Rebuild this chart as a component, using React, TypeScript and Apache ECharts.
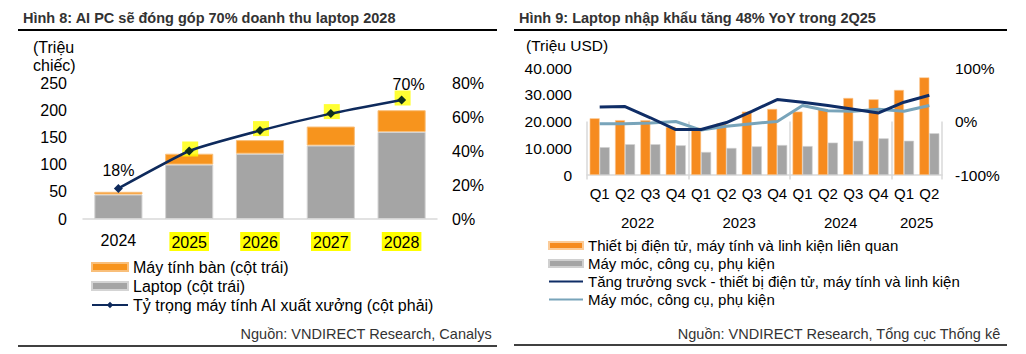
import React, { useEffect, useRef } from 'react';
import * as echarts from 'echarts';

// ---------- Left chart (Hình 8) ----------
const leftYears = ['2024', '2025', '2026', '2027', '2028'];
const laptopUnits = [45, 100, 120, 135, 160];
const desktopUnits = [5, 20, 25, 35, 40];
const aiShare = [0.18, 0.40, 0.52, 0.62, 0.70];
const highlightedYears = ['2025', '2026', '2027', '2028'];

// ---------- Right chart (Hình 9) ----------
const quarters = ['Q1', 'Q2', 'Q3', 'Q4', 'Q1', 'Q2', 'Q3', 'Q4', 'Q1', 'Q2', 'Q3', 'Q4', 'Q1', 'Q2'];
const yearGroups = ['2022', '2023', '2024', '2025'];
const quartersPerYear = [4, 4, 4, 2];
const electronicsImports = [21200, 20500, 20500, 18000, 17700, 19300, 23700, 24700, 23700, 24700, 28800, 28300, 31800, 36500];
const machineryImports = [10400, 11500, 11500, 11100, 8600, 10100, 10700, 11200, 10800, 12100, 12800, 13700, 12800, 15600];
const electronicsYoY = [0.27, 0.28, 0.07, -0.15, -0.15, -0.02, 0.19, 0.41, 0.36, 0.30, 0.23, 0.16, 0.36, 0.49];
const machineryYoY = [-0.04, -0.04, -0.03, 0.0, -0.16, -0.09, -0.04, 0.0, 0.30, 0.20, 0.19, 0.23, 0.19, 0.30];

const L1 = 'Máy tính bàn (cột trái)';
const L2 = 'Laptop (cột trái)';
const L3 = 'Tỷ trọng máy tính AI xuất xưởng (cột phải)';
const R1 = 'Thiết bị điện tử, máy tính và linh kiện liên quan';
const R2 = 'Máy móc, công cụ, phụ kiện';
const R3 = 'Tăng trưởng svck - thiết bị điện tử, máy tính và linh kiện';
const R4 = 'Tăng trưởng svck - Máy móc, công cụ, phụ kiện';
const R4_LABEL = 'Máy móc, công cụ, phụ kiện';

const FONT = '"Liberation Sans", Arial, sans-serif';
const pct = (v: number) => Math.round(v * 100) + '%';
const thousands = (v: number) => String(v).replace(/\B(?=(\d{3})+(?!\d))/g, '.');

// year group boundaries and centres derived from quartersPerYear
const boundaries: number[] = [0];
quartersPerYear.forEach((n) => boundaries.push(boundaries[boundaries.length - 1] + n));
const centres = quartersPerYear.map((n, i) => boundaries[i] + n / 2);

export default function App() {
  const ref = useRef<HTMLDivElement>(null);
  useEffect(() => {
    if (!ref.current) return;
    const chart = echarts.init(ref.current, undefined, { renderer: 'svg' });
    const hlRich: any = {
      h: { backgroundColor: '#FFFF00', padding: [2, 2, 1, 2], fontSize: 16, color: '#000', fontFamily: FONT },
    };
    const hiddenSymbol = { color: 'rgba(0,0,0,0)', opacity: 0, borderWidth: 0 };
    const option: any = {
      animation: false,
      textStyle: { fontFamily: FONT },
      title: [
        { text: 'Hình 8: AI PC sẽ đóng góp 70% doanh thu laptop 2028', left: 18, top: 5, textStyle: { fontSize: 14.5, fontWeight: 'bold', color: '#333', fontFamily: FONT } },
        { text: 'Hình 9: Laptop nhập khẩu tăng 48% YoY trong 2Q25', left: 514, top: 5, textStyle: { fontSize: 14.5, fontWeight: 'bold', color: '#333', fontFamily: FONT } },
        { text: 'Nguồn: VNDIRECT Research, Canalys', right: 529, top: 321, textStyle: { fontSize: 14.5, fontWeight: 'normal', color: '#333', fontFamily: FONT } },
        { text: 'Nguồn: VNDIRECT Research, Tổng cục Thống kê', right: 20, top: 321, textStyle: { fontSize: 14.5, fontWeight: 'normal', color: '#333', fontFamily: FONT } },
      ],
      graphic: [
        { type: 'line', shape: { x1: 18, y1: 30, x2: 497, y2: 30 }, style: { stroke: '#000', lineWidth: 2 } },
        { type: 'line', shape: { x1: 514, y1: 30, x2: 1007, y2: 30 }, style: { stroke: '#000', lineWidth: 2 } },
        { type: 'line', shape: { x1: 18, y1: 346, x2: 497, y2: 346 }, style: { stroke: '#000', lineWidth: 1.5 } },
        { type: 'line', shape: { x1: 514, y1: 345, x2: 1007, y2: 345 }, style: { stroke: '#000', lineWidth: 1.5 } },
        { type: 'text', left: 33, top: 38, style: { text: '(Triệu\nchiếc)', fontSize: 16, lineHeight: 18, fill: '#000', fontFamily: FONT } },
        { type: 'text', left: 526, top: 37, style: { text: '(Triệu USD)', fontSize: 15.5, fill: '#000', fontFamily: FONT } },
      ],
      legend: [
        {
          orient: 'vertical', left: 86, top: 254, itemGap: 3, itemWidth: 36, itemHeight: 8,
          selectedMode: false,
          textStyle: { fontSize: 16, color: '#000', fontFamily: FONT },
          data: [{ name: L1, icon: 'rect' }, { name: L2, icon: 'rect' }, { name: L3 }],
        },
        {
          orient: 'vertical', left: 543, top: 233, itemGap: 3, itemWidth: 34, itemHeight: 7,
          selectedMode: false,
          textStyle: { fontSize: 15, color: '#000', fontFamily: FONT },
          formatter: (n: string) => (n === R4 ? R4_LABEL : n),
          data: [
            { name: R1, icon: 'rect' },
            { name: R2, icon: 'rect' },
            { name: R3, itemStyle: hiddenSymbol },
            { name: R4, itemStyle: hiddenSymbol },
          ],
        },
      ],
      grid: [
        { left: 83, right: 589, top: 83, bottom: 135 },
        { left: 587, right: 84, top: 68, bottom: 179 },
      ],
      xAxis: [
        {
          gridIndex: 0, type: 'category', data: leftYears,
          axisLine: { lineStyle: { color: '#D9D9D9', width: 1.5 } },
          axisTick: { show: false },
          axisLabel: {
            fontSize: 16, color: '#000', margin: 13, interval: 0,
            formatter: (v: string) => (highlightedYears.includes(v) ? `{h|${v}}` : v),
            rich: hlRich,
          },
        },
        {
          gridIndex: 1, type: 'category', data: quarters, position: 'bottom',
          axisLine: { lineStyle: { color: '#D9D9D9', width: 1.5 } },
          axisTick: { show: false },
          axisLabel: { fontSize: 15, color: '#000', margin: 11, interval: 0 },
        },
        {
          gridIndex: 1, type: 'value', min: 0, max: boundaries[boundaries.length - 1], interval: 1, position: 'bottom',
          axisLine: { show: false },
          splitLine: { show: false },
          axisTick: { show: true, customValues: boundaries, length: 58, lineStyle: { color: '#D9D9D9', width: 1.5 } },
          axisLabel: {
            customValues: centres, fontSize: 15, color: '#000', margin: 40,
            formatter: (v: number) => {
              const i = centres.indexOf(v);
              return i >= 0 ? yearGroups[i] : '';
            },
          },
        },
      ],
      yAxis: [
        {
          gridIndex: 0, type: 'value', min: 0, max: 250, interval: 50,
          axisLine: { show: false }, axisTick: { show: false }, splitLine: { show: false },
          axisLabel: { fontSize: 16, color: '#000', margin: 16 },
        },
        {
          gridIndex: 0, type: 'value', min: 0, max: 0.8, interval: 0.2, position: 'right',
          axisLine: { show: false }, axisTick: { show: false }, splitLine: { show: false },
          axisLabel: { fontSize: 16, color: '#000', margin: 15, formatter: pct },
        },
        {
          gridIndex: 1, type: 'value', min: 0, max: 40000, interval: 10000,
          axisLine: { show: false }, axisTick: { show: false }, splitLine: { show: false },
          axisLabel: { fontSize: 15.5, color: '#000', margin: 15, formatter: thousands },
        },
        {
          gridIndex: 1, type: 'value', min: -1, max: 1, interval: 1, position: 'right',
          axisLine: { show: false }, axisTick: { show: false }, splitLine: { show: false },
          axisLabel: { fontSize: 15.5, color: '#000', margin: 13, formatter: pct },
        },
      ],
      series: [
        {
          name: L2, type: 'bar', xAxisIndex: 0, yAxisIndex: 0, stack: 'units', data: laptopUnits,
          barCategoryGap: '32%', itemStyle: { color: '#A5A5A5', borderColor: '#D4D4D4', borderWidth: 1 }, z: 2,
        },
        {
          name: L1, type: 'bar', xAxisIndex: 0, yAxisIndex: 0, stack: 'units', data: desktopUnits,
          itemStyle: { color: '#F7941D', borderColor: '#F9BF7A', borderWidth: 1 }, z: 2,
        },
        {
          name: 'highlight', type: 'scatter', xAxisIndex: 0, yAxisIndex: 1, silent: true, z: 3,
          symbol: 'rect', symbolSize: [16, 15], symbolOffset: [1, -2],
          itemStyle: { color: '#FFFF00' },
          data: aiShare.map((v, i) => (highlightedYears.includes(leftYears[i]) ? v : '-')),
        },
        {
          name: L3, type: 'line', xAxisIndex: 0, yAxisIndex: 1, z: 5, smooth: 0.15,
          symbol: 'diamond', symbolSize: 9,
          lineStyle: { color: '#0E2A5C', width: 2.5 },
          itemStyle: { color: '#0E2A5C' },
          label: { show: false, position: 'top', distance: 8, fontSize: 16, color: '#000', formatter: (p: any) => pct(p.value) },
          data: aiShare.map((v, i) => ({
            value: v,
            itemStyle: highlightedYears.includes(leftYears[i]) ? { color: '#10301C' } : undefined,
            label: i === 0 || i === aiShare.length - 1 ? { show: true, offset: i === 0 ? [0, 3] : [7, 5] } : undefined,
          })),
        },
        {
          name: R1, type: 'bar', xAxisIndex: 1, yAxisIndex: 2, data: electronicsImports,
          barGap: '0%', barCategoryGap: '21%',
          itemStyle: { color: '#F68B1F', borderColor: '#FBCB98', borderWidth: 0.6 },
        },
        {
          name: R2, type: 'bar', xAxisIndex: 1, yAxisIndex: 2, data: machineryImports,
          itemStyle: { color: '#A5A5A5', borderColor: '#D0D0D0', borderWidth: 0.6 },
        },
        {
          name: R3, type: 'line', xAxisIndex: 1, yAxisIndex: 3, data: electronicsYoY, symbol: 'none', z: 5,
          lineStyle: { color: '#0F2D66', width: 3 }, itemStyle: { color: '#0F2D66' },
        },
        {
          name: R4, type: 'line', xAxisIndex: 1, yAxisIndex: 3, data: machineryYoY, symbol: 'none', z: 4,
          lineStyle: { color: '#78A4BA', width: 3 }, itemStyle: { color: '#78A4BA' },
        },
      ],
    };
    chart.setOption(option);
    return () => chart.dispose();
  }, []);
  return (
    <div
      ref={ref}
      style={{ position: 'fixed', left: 0, top: 0, width: 1026, height: 354, background: '#fff' }}
    />
  );
}
